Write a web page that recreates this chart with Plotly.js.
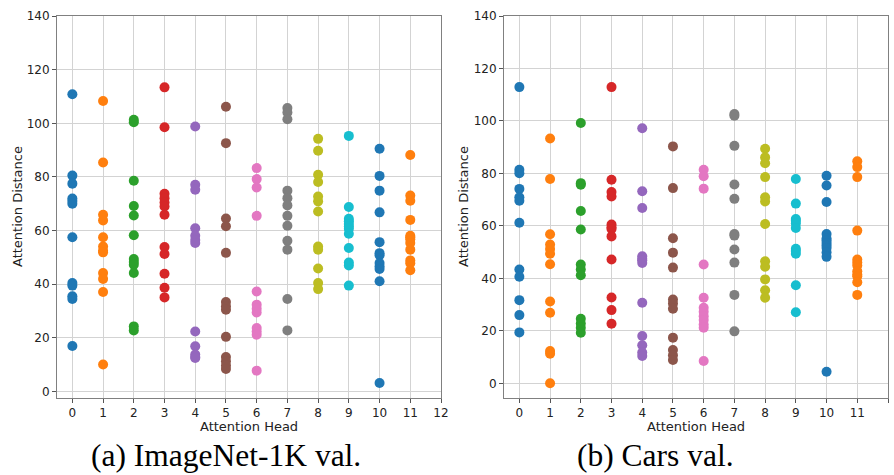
<!DOCTYPE html>
<html>
<head>
<meta charset="utf-8">
<script src="https://cdn.plot.ly/plotly-3.0.1.min.js"></script>
<style>
  html, body { margin: 0; padding: 0; background: #fff; }
  #chart { width: 894px; height: 475px; }
</style>
</head>
<body>
<div id="chart"></div>
<script>
// Attention heads (x categories)
const heads = [0, 1, 2, 3, 4, 5, 6, 7, 8, 9, 10, 11];
const xTicks = [0, 1, 2, 3, 4, 5, 6, 7, 8, 9, 10, 11, 12];
const yTicks = [0, 20, 40, 60, 80, 100, 120, 140];

// (a) ImageNet-1K val. : attention distance per head
const imagenetDist = [
  [110.8, 80.5, 77.5, 72, 71, 70, 57.5, 40.5, 39.5, 35.5, 34.5, 17],
  [108.3, 85.4, 65.9, 63.8, 57.5, 54.1, 52.5, 51.9, 44.2, 42, 37.1, 10.1],
  [101.3, 100.4, 78.6, 69.2, 65.6, 58.3, 49.4, 48.3, 47.3, 44.2, 24.3, 22.8],
  [113.4, 98.5, 73.7, 72.1, 70.5, 69, 65.9, 53.9, 51.3, 43.9, 38.7, 35.1],
  [98.8, 77.1, 75.2, 60.9, 58.1, 56.5, 55.4, 22.4, 16.9, 13.8, 12.9, 12.5],
  [106.2, 92.6, 64.5, 61.6, 51.7, 33.4, 31.8, 30.5, 20.4, 12.9, 11.3, 9.7, 8.4],
  [83.3, 79.2, 76.1, 65.5, 37.3, 32.4, 30.9, 29.5, 23.7, 22.4, 21.2, 7.8],
  [105.7, 104, 101.5, 74.9, 72.1, 69.4, 65.5, 61.8, 56.2, 52.9, 34.5, 22.8],
  [94.2, 89.8, 80.8, 78.1, 72.7, 70.9, 67.1, 54.1, 52.9, 45.9, 40.5, 38.2],
  [95.3, 68.8, 64.4, 63.5, 62.5, 61.5, 60.7, 58.8, 53.5, 48.1, 47, 39.5],
  [90.5, 80.4, 74.9, 66.8, 55.7, 51.6, 50.8, 47.9, 46.7, 45.7, 41.1, 3.2],
  [88.2, 73.1, 71.1, 64, 58.1, 57.5, 56.8, 55.4, 52.9, 48.9, 47.8, 45.2]
];

// (b) Cars val. : attention distance per head
const carsDist = [
  [112.9, 81.4, 80.1, 74.1, 70.9, 69.6, 61.2, 43.4, 40.6, 31.7, 26, 19.4],
  [93.3, 77.9, 56.8, 52.9, 51.2, 49.4, 45.4, 31.2, 26.9, 12.3, 11.3, 0],
  [99.2, 76.3, 75.7, 65.7, 58.6, 45.3, 43.4, 41.2, 24.6, 22.8, 21.2, 19.3],
  [112.9, 77.6, 72.9, 71.2, 60.5, 59.5, 58.8, 56, 47.2, 32.7, 27.9, 22.7],
  [97.2, 73.2, 66.8, 48.4, 47.5, 46.9, 45.9, 30.7, 18, 14.5, 11.7, 10.4],
  [90.3, 74.4, 55.3, 49.8, 44.1, 31.9, 30.4, 28.4, 17.4, 12.7, 10.7, 8.9],
  [81.4, 78.9, 74.2, 45.3, 32.6, 28.8, 27.3, 25.6, 24.1, 22.4, 21.2, 8.5],
  [102.6, 102, 90.5, 75.8, 70.3, 56.9, 56.3, 51, 46, 33.7, 19.8],
  [89.4, 86.1, 83.9, 78.6, 70.9, 69.3, 60.7, 46.5, 44.4, 39.6, 35.5, 32.6],
  [77.9, 68.5, 62.6, 62, 60.9, 59.2, 51.3, 50.4, 49.4, 37.4, 27.1],
  [79.1, 75.4, 69.1, 56.9, 55.2, 54.4, 53.5, 52.5, 51.6, 49.9, 48.2, 4.4],
  [84.6, 82.4, 78.6, 58.2, 47.2, 46, 44.9, 42.7, 41.5, 40.8, 38.5, 33.7]
];

const palette = ['#1f77b4', '#ff7f0e', '#2ca02c', '#d62728', '#9467bd', '#8c564b',
                 '#e377c2', '#7f7f7f', '#bcbd22', '#17becf'];

const captions = ['(a) ImageNet-1K val.', '(b) Cars val.'];
const xTitle = 'Attention Head';
const yTitle = 'Attention Distance';

const traces = [];
function addPanel(data, xa, ya) {
  heads.forEach((h, i) => {
    traces.push({
      type: 'scatter', mode: 'markers',
      x: data[i].map(() => h), y: data[i],
      xaxis: xa, yaxis: ya,
      marker: { color: palette[i % palette.length], size: 10, line: { width: 0 } },
      hoverinfo: 'skip', showlegend: false
    });
  });
}
addPanel(imagenetDist, 'x', 'y');
addPanel(carsDist, 'x2', 'y2');

const tickFont = { family: 'DejaVu Sans, sans-serif', size: 12, color: '#222' };
const axisCommon = {
  showline: true, linecolor: '#808080', linewidth: 1, mirror: true,
  showgrid: true, gridcolor: '#d3d3d3', gridwidth: 1,
  zeroline: false, ticks: 'outside', ticklen: 4, tickcolor: '#555',
  tickfont: tickFont, fixedrange: true
};

const yTop = 1 - 16 / 475, yBot = 1 - 398 / 475;
const titleFont = { family: 'DejaVu Sans, sans-serif', size: 13, color: '#222' };
const captionFont = { family: 'Liberation Serif, Times New Roman, serif', size: 31.5, color: '#000' };
const layout = {
  width: 894, height: 475,
  margin: { l: 0, r: 0, t: 0, b: 0 },
  paper_bgcolor: '#fff', plot_bgcolor: '#fff',
  xaxis: Object.assign({}, axisCommon, { domain: [57 / 894, 441 / 894], range: [-0.5, 12],
    tickvals: xTicks, ticktext: xTicks.map(String), anchor: 'y' }),
  yaxis: Object.assign({}, axisCommon, { domain: [yBot, yTop], range: [-2.4, 140],
    tickvals: yTicks, anchor: 'x' }),
  xaxis2: Object.assign({}, axisCommon, { domain: [504 / 894, 888 / 894], range: [-0.5, 12],
    tickvals: xTicks, ticktext: xTicks.map(String), anchor: 'y2' }),
  yaxis2: Object.assign({}, axisCommon, { domain: [yBot, yTop], range: [-5.6, 140],
    tickvals: yTicks, anchor: 'x2' }),
  annotations: [
    { text: xTitle, xref: 'paper', yref: 'paper', x: 249 / 894, y: 1 - 426 / 475,
      xanchor: 'center', yanchor: 'middle', showarrow: false, font: titleFont },
    { text: xTitle, xref: 'paper', yref: 'paper', x: 696 / 894, y: 1 - 426 / 475,
      xanchor: 'center', yanchor: 'middle', showarrow: false, font: titleFont },
    { text: yTitle, xref: 'paper', yref: 'paper', x: 17 / 894, y: 1 - 207 / 475,
      xanchor: 'center', yanchor: 'middle', showarrow: false, textangle: -90, font: titleFont },
    { text: yTitle, xref: 'paper', yref: 'paper', x: 463 / 894, y: 1 - 207 / 475,
      xanchor: 'center', yanchor: 'middle', showarrow: false, textangle: -90, font: titleFont },
    { text: captions[0], xref: 'paper', yref: 'paper', x: 226 / 894, y: 1 - 455 / 475,
      xanchor: 'center', yanchor: 'middle', showarrow: false, font: captionFont },
    { text: captions[1], xref: 'paper', yref: 'paper', x: 655 / 894, y: 1 - 455 / 475,
      xanchor: 'center', yanchor: 'middle', showarrow: false, font: captionFont }
  ]
};

Plotly.newPlot('chart', traces, layout, { displayModeBar: false, staticPlot: true });
</script>
</body>
</html>
